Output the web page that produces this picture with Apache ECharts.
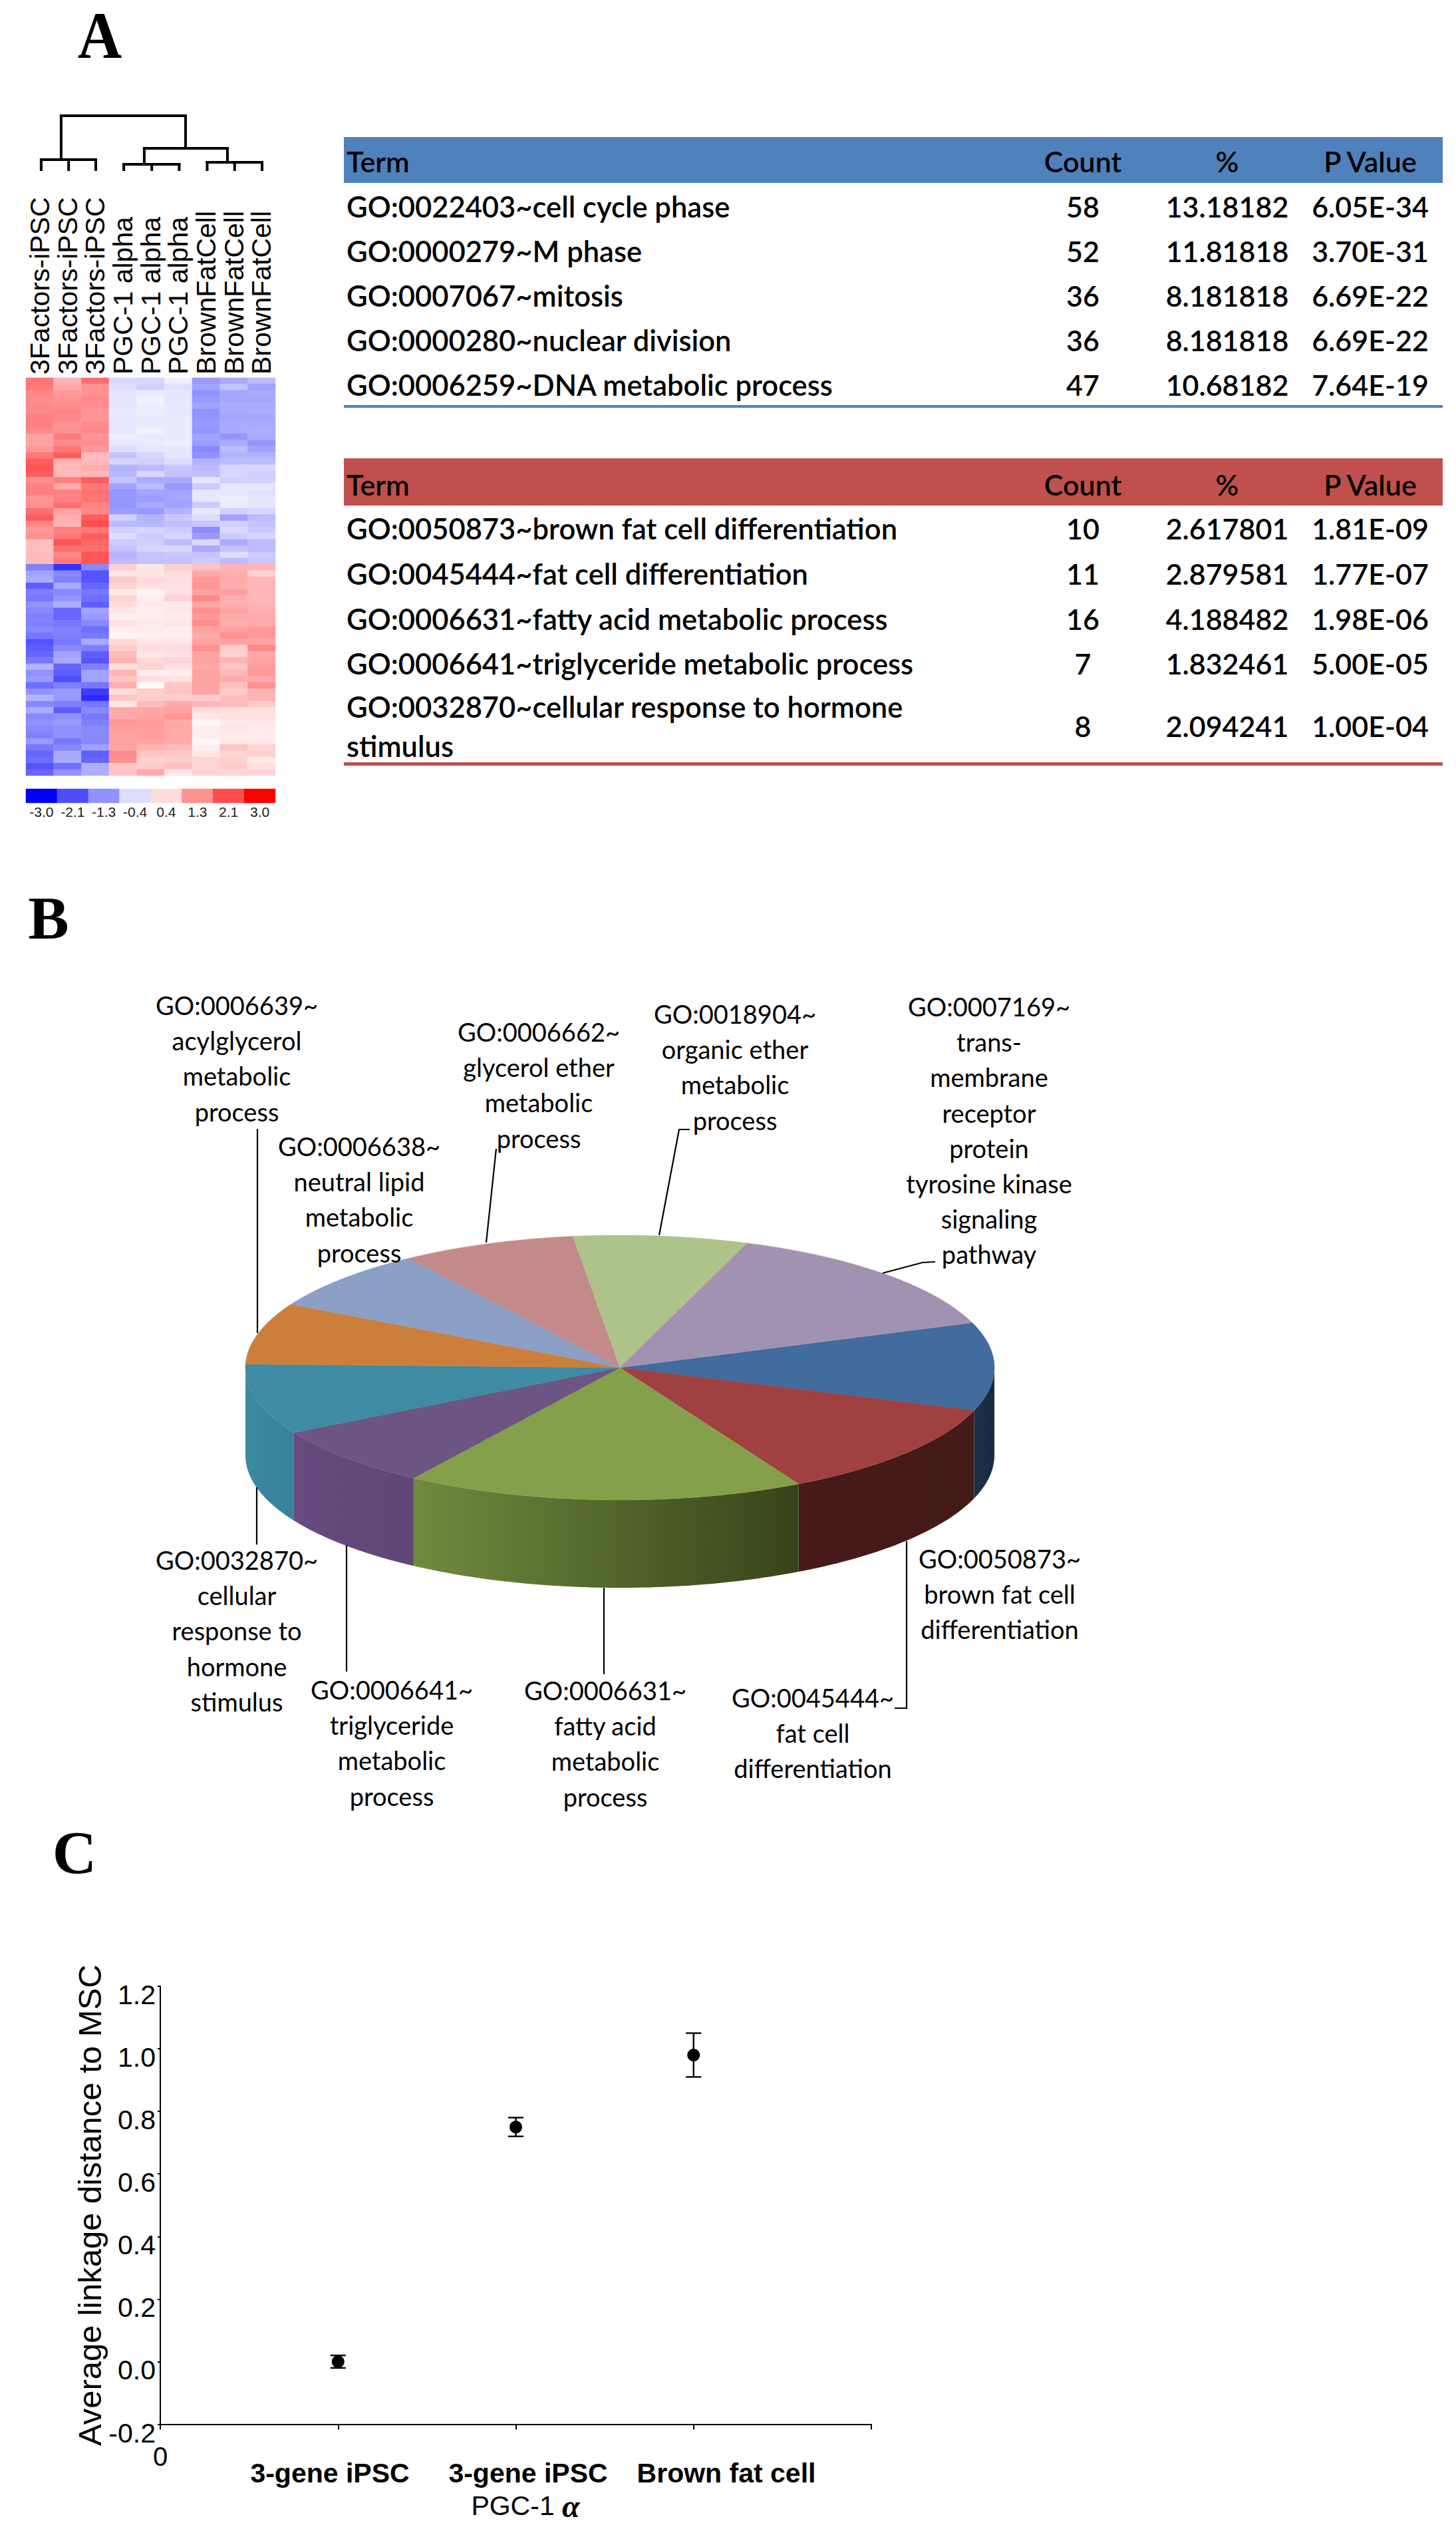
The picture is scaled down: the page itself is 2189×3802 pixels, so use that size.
<!DOCTYPE html>
<html><head><meta charset="utf-8">
<style>html,body{margin:0;padding:0;background:#fff}#c{width:2189px;height:3802px}</style>
<script src="https://cdn.jsdelivr.net/npm/echarts@6/dist/echarts.min.js"></script>
</head><body><div id="c"></div>
<script>
// ---------- Panel A: heat map ----------
const sampleLabels = ['3Factors-iPSC','3Factors-iPSC','3Factors-iPSC','PGC-1 alpha','PGC-1 alpha','PGC-1 alpha','BrownFatCell','BrownFatCell','BrownFatCell'];
const heatRows = [
[1.6,.9,1.7,-.45,-.5,-.2,-1.2,-1.0,-.8],
[1.6,1.0,1.3,-.4,-.55,-.35,-1.1,-.7,-1.1],
[1.4,1.2,1.3,-.3,-.25,-.3,-1.3,-1.05,-1.0],
[1.35,1.3,1.4,-.3,-.15,-.3,-1.2,-1.05,-1.05],
[1.4,1.35,1.35,-.3,-.2,-.27,-1.1,-1.0,-1.0],
[1.4,1.45,1.25,-.25,-.22,-.3,-1.3,-1.0,-.95],
[1.5,1.4,1.25,-.3,-.25,-.25,-1.25,-1.05,-1.05],
[1.5,1.25,1.35,-.28,-.25,-.25,-1.2,-1.0,-1.0],
[1.4,1.3,1.4,-.3,-.15,-.25,-1.25,-1.0,-.95],
[1.1,1.55,1.25,-.2,-.25,-.25,-1.1,-1.25,-1.0],
[1.1,1.35,1.35,-.3,-.25,-.2,-1.15,-1.0,-1.25],
[1.2,1.6,1.2,-.4,-.3,-.3,-1.4,-.8,-1.1],
[1.6,1.9,.8,-.7,-.5,-.3,-1.3,-.9,-.9],
[1.9,.9,.85,-.5,-.55,-.4,-.9,-.8,-.8],
[2.0,.8,.95,-.9,-.8,-.65,-.8,-.5,-.45],
[1.9,.85,.85,-.85,-.5,-.7,-.75,-.5,-.55],
[1.3,1.5,1.9,-.7,-1.0,-1.0,-.3,-.55,-.55],
[1.5,1.0,1.6,-1.1,-.8,-1.2,-.6,-.3,-.3],
[1.5,1.5,1.65,-1.25,-1.1,-1.1,-.3,-.3,-.35],
[1.25,1.5,1.65,-1.25,-1.15,-1.05,-.3,-.2,-.3],
[1.3,1.7,1.45,-1.25,-1.0,-1.1,-.6,-.25,-.3],
[1.7,1.1,1.4,-1.15,-1.2,-.9,-.25,-.55,-.5],
[1.9,.95,1.9,-.55,-.9,-.65,-.4,-1.1,-.8],
[1.4,.9,2.1,-.8,-.85,-.75,-.65,-.55,-.7],
[1.2,1.5,1.6,-.55,-.5,-.6,-1.35,-.45,-.65],
[1.3,1.6,1.9,-.4,-.6,-.5,-1.2,-.6,-.5],
[.75,2.0,1.8,-.6,-.55,-.8,-.45,-1.0,-.8],
[.75,1.7,1.7,-.7,-.5,-.45,-1.0,-.7,-.8],
[.8,1.4,2.0,-.9,-.7,-.65,-.7,-.4,-.6],
[.8,1.6,2.0,-.8,-.7,-.7,-.6,-.8,-.65],
[-1.5,-2.4,-1.4,.55,.3,.55,.7,.9,.9],
[-1.1,-1.4,-2.0,.3,.3,.4,1.0,.95,.5],
[-1.0,-1.5,-2.0,.65,.45,.4,1.2,1.0,.85],
[-1.9,-1.0,-1.8,.5,.35,.35,1.25,.95,.85],
[-1.5,-1.4,-1.6,.25,.15,.35,1.1,1.15,.85],
[-1.6,-1.25,-1.7,.5,.2,.5,1.4,.95,.85],
[-1.3,-.95,-1.9,.4,.25,.25,1.05,.95,.9],
[-1.4,-1.8,-1.1,.3,.2,.3,1.3,1.1,.95],
[-1.5,-1.8,-1.2,.2,.2,.25,1.2,1.0,1.0],
[-1.5,-1.6,-1.4,.35,.25,.3,1.35,.95,1.0],
[-1.4,-1.5,-1.7,.2,.25,.2,1.1,1.1,1.2],
[-1.6,-1.5,-1.6,.1,.2,.2,1.0,1.3,1.2],
[-2.0,-1.6,-1.0,.45,.3,.3,1.1,1.1,1.1],
[-1.9,-1.4,-1.5,.6,.4,.4,1.3,.6,1.4],
[-1.8,-1.1,-1.9,.8,.3,.35,1.1,.55,1.0],
[-1.6,-1.0,-2.0,.9,.45,.5,1.1,.9,1.1],
[-.9,-1.8,-1.5,.4,.5,.35,1.0,.7,1.15],
[-1.3,-1.9,-1.1,.9,.2,.2,1.1,.85,1.2],
[-1.2,-2.1,-1.1,.7,.4,.35,1.1,1.0,1.0],
[-1.7,-1.5,-1.6,.95,.05,.7,1.1,.75,1.3],
[-1.3,-1.2,-2.3,.4,.6,.7,1.1,.6,.9],
[-.9,-1.2,-2.5,.7,.6,.6,.6,.8,.9],
[-1.4,-1.5,-1.6,.3,.8,1.0,.85,.8,.6],
[-1.0,-1.9,-1.4,1.0,1.05,1.1,.4,.35,.35],
[-1.4,-1.3,-1.6,1.0,1.1,1.25,.25,.35,.35],
[-1.3,-1.2,-1.5,1.25,1.15,1.0,.1,.25,.3],
[-1.4,-1.3,-1.4,1.15,1.15,1.05,.2,.3,.25],
[-1.5,-1.3,-1.4,1.1,1.15,1.05,.2,.25,.25],
[-1.2,-1.6,-1.4,1.1,1.1,1.0,.08,.25,.25],
[-1.6,-1.4,-1.1,1.1,.9,.8,.2,.7,.5],
[-1.8,-1.0,-1.9,1.35,.7,.65,.3,.5,.55],
[-1.7,-1.0,-1.8,1.3,.55,.6,.5,.55,.25],
[-2.0,-1.7,-.95,.7,.6,.75,.5,.6,.35],
[-1.8,-1.3,-.95,.7,1.0,.3,.5,.5,.5]
];
const scaleLabels = ['-3.0','-2.1','-1.3','-0.4','0.4','1.3','2.1','3.0'];
const scaleValues = [-3,-2.1,-1.3,-0.4,0.4,1.3,2.1,3];
// dendrogram segments: [x1, height1, x2, height2] in column / height units
const dendroSegments = [
 [0.55,0,0.55,15],[1.54,0,1.54,15],[2.52,0,2.52,15],[0.55,15,2.52,15],
 [3.53,0,3.53,8],[4.54,0,4.54,8],[5.53,0,5.53,8],[3.53,8,5.53,8],
 [6.54,0,6.54,11],[7.53,0,7.53,11],[8.52,0,8.52,11],[6.54,11,8.52,11],
 [4.27,8,4.27,32],[7.27,11,7.27,32],[4.27,32,7.27,32],
 [1.27,15,1.27,81],[5.76,32,5.76,81],[1.27,81,5.76,81]
];
// ---------- Panel A: tables ----------
const tableHeader = ['Term','Count','%','P Value'];
const blueTerms = ['GO:0022403~cell cycle phase','GO:0000279~M phase','GO:0007067~mitosis','GO:0000280~nuclear division','GO:0006259~DNA metabolic process'];
const blueCounts = ['58','52','36','36','47'];
const bluePercents = ['13.18182','11.81818','8.181818','8.181818','10.68182'];
const bluePValues = ['6.05E-34','3.70E-31','6.69E-22','6.69E-22','7.64E-19'];
const redTerms = ['GO:0050873~brown fat cell differentiation','GO:0045444~fat cell differentiation','GO:0006631~fatty acid metabolic process','GO:0006641~triglyceride metabolic process'];
const redLastTerm = ['GO:0032870~cellular response to hormone','stimulus'];
const redCounts = ['10','11','16','7','8'];
const redPercents = ['2.617801','2.879581','4.188482','1.832461','2.094241'];
const redPValues = ['1.81E-09','1.77E-07','1.98E-06','5.00E-05','1.00E-04'];
// ---------- Panel B: pie ----------
const pieCounts = [10,11,16,7,8,7,7,7,7,13];
const pieTopColors = ['#426b9e','#a04040','#84a04a','#6c5484','#3e8ba4','#cb7f3b','#8ba0c4','#c48a8a','#aec38a','#a292b2'];
const pieSideColors = [['#1c3149','#182a40'],['#461b19','#441a18'],['#6f8b3e','#374419'],['#684a80','#5f4675'],['#3a8ba1','#38809a'],['#888','#888'],['#888','#888'],['#888','#888'],['#888','#888'],['#888','#888']];
const pieLabels = [
 {lines:['GO:0006639~','acylglycerol','metabolic','process'],x:356,y:1511},
 {lines:['GO:0006638~','neutral lipid','metabolic','process'],x:540,y:1723},
 {lines:['GO:0006662~','glycerol ether','metabolic','process'],x:810,y:1551},
 {lines:['GO:0018904~','organic ether','metabolic','process'],x:1105,y:1524},
 {lines:['GO:0007169~','trans-','membrane','receptor','protein','tyrosine kinase','signaling','pathway'],x:1487,y:1513},
 {lines:['GO:0032870~','cellular','response to','hormone','stimulus'],x:356,y:2345},
 {lines:['GO:0006641~','triglyceride','metabolic','process'],x:589,y:2540},
 {lines:['GO:0006631~','fatty acid','metabolic','process'],x:910,y:2541},
 {lines:['GO:0045444~','fat cell','differentiation'],x:1222,y:2552},
 {lines:['GO:0050873~','brown fat cell','differentiation'],x:1503,y:2343}
];
const leaderLines = [
 [[387,1697],[387,2004]],
 [[746,1727],[731,1868]],
 [[1037,1698],[1021,1698],[991,1857]],
 [[1406,1897],[1387,1898],[1327,1914]],
 [[386,2236],[386,2322]],
 [[521,2323],[521,2513]],
 [[908,2387],[908,2517]],
 [[1363,2317],[1363,2568],[1345,2568]]
];
// ---------- Panel C ----------
const groupPositions = [1,2,3];
const groupNames = ['3-gene iPSC','3-gene iPSC','Brown fat cell'];
const groupMeans = [0.0,0.75,0.98];
const groupLows = [-0.02,0.72,0.91];
const groupHighs = [0.02,0.78,1.05];
const yTitle = 'Average linkage distance to MSC';

const FONT = 'Lato';
const ARIAL = '"Liberation Sans"';
function txt(text,x,y,o){o=o||{};
 return {type:'text',x:x,y:y,silent:true,scaleX:o.sx||1,scaleY:o.sy||1,originX:0,originY:0,z:o.z||20,
  style:{text:text,fill:o.fill||'#000',fontSize:o.size||40,fontFamily:o.family||FONT,fontWeight:o.weight||'normal',
   fontStyle:o.style||'normal',align:o.align||'left',verticalAlign:'middle',textAlign:o.align||'left',textVerticalAlign:'middle',rich:o.rich}};
}
const graphics = [];
graphics.push(txt('A',150,54,{family:'"Liberation Serif"',size:92,sy:1.08,weight:'bold',align:'center'}));
graphics.push(txt('B',73,1380,{family:'"Liberation Serif"',size:92,weight:'bold',align:'center'}));
graphics.push(txt('C',112,2785,{family:'"Liberation Serif"',size:92,weight:'bold',align:'center'}));

// tables
const TX = {term:521, count:1628, pct:1845, p:2060, left:517, width:1652};
const TS = {term:43.5, num:43, weight:'600'};
function cell(t,x,y,align,size){return txt(t,x,y-2,{size:size,weight:TS.weight,align:align});}
function table(headTop,headH,color,lineY,lineH,headY){
 graphics.push({type:'rect',shape:{x:TX.left,y:headTop,width:TX.width,height:headH},style:{fill:color},silent:true,z:5});
 graphics.push({type:'rect',shape:{x:TX.left,y:lineY,width:TX.width,height:lineH},style:{fill:color},silent:true,z:5});
 graphics.push(cell(tableHeader[0],TX.term,headY,'left',TS.num));
 graphics.push(cell(tableHeader[1],TX.count,headY,'center',TS.num));
 graphics.push(cell(tableHeader[2],TX.pct,headY,'center',TS.num));
 graphics.push(cell(tableHeader[3],TX.p,headY,'center',TS.num));
}
table(206,69,'#4f81bd',609,4,244);
table(689,71,'#c0504d',1146,5,730);
const blueY=[312,379,446,513,580];
blueTerms.forEach((t,i)=>{
 graphics.push(cell(t,TX.term,blueY[i],'left',TS.term),cell(blueCounts[i],TX.count,blueY[i],'center',TS.num),cell(bluePercents[i],TX.pct,blueY[i],'center',TS.num),cell(bluePValues[i],TX.p,blueY[i],'center',TS.num));
});
const redY=[796,864,932,999,1093];
redCounts.forEach((c,i)=>{
 if(i<4) graphics.push(cell(redTerms[i],TX.term,redY[i],'left',TS.term));
 graphics.push(cell(c,TX.count,redY[i],'center',TS.num),cell(redPercents[i],TX.pct,redY[i],'center',TS.num),cell(redPValues[i],TX.p,redY[i],'center',TS.num));
});
graphics.push(cell(redLastTerm[0],TX.term,1064,'left',TS.term),cell(redLastTerm[1],TX.term,1123,'left',TS.term));

// pie labels + leaders
pieLabels.forEach(l=>l.lines.forEach((s,i)=>graphics.push(txt(s,l.x,l.y+i*53.2,{size:38,align:'center'}))));
leaderLines.forEach(p=>graphics.push({type:'polyline',silent:true,z:15,shape:{points:p},style:{stroke:'#000',lineWidth:2.2,fill:null}}));

// panel C free labels
const cLabelX=[496,794,1092];
groupNames.forEach((n,i)=>graphics.push(txt(n,cLabelX[i],3718,{family:ARIAL,size:41,weight:'bold',align:'center'})));
graphics.push(txt('PGC-1 {a|α}',790,3767,{family:ARIAL,size:41,align:'center',rich:{a:{fontFamily:'"Liberation Serif"',fontStyle:'italic',fontWeight:'bold',fontSize:48,fill:'#000'}}}));

// pie geometry
const P={cx:932,cy:2056,rx:563,ry:199,depth:132,start:19.8};
const total=pieCounts.reduce((a,b)=>a+b,0);
function sliceAngles(idx){
 let a=P.start;for(let i=0;i<idx;i++)a-=pieCounts[i]/total*360;
 return [a,a-pieCounts[idx]/total*360];
}
function rim(deg,dy){const t=deg*Math.PI/180;return [P.cx+P.rx*Math.cos(t),P.cy-P.ry*Math.sin(t)+(dy||0)];}
function arc(a0,a1,dy){const n=Math.max(2,Math.ceil(Math.abs(a0-a1)));const o=[];for(let i=0;i<=n;i++)o.push(rim(a0+(a1-a0)*i/n,dy));return o;}

const chart=echarts.init(document.getElementById('c'),null,{renderer:'svg',width:2189,height:3802});
const heatData=[];heatRows.forEach((r,y)=>r.forEach((v,x)=>heatData.push([x,y,v])));
chart.setOption({
 animation:false,backgroundColor:'#fff',
 textStyle:{fontFamily:ARIAL,color:'#000'},
 graphic:{elements:graphics},
 visualMap:{type:'continuous',show:false,min:-3,max:3,seriesIndex:[0,1],dimension:2,inRange:{color:['#0000ff','#ffffff','#ff0000']}},
 grid:[
  {left:39,top:568,width:375,height:598},
  {left:39,top:1186,width:375,height:21},
  {left:39,top:174,width:375,height:81},
  {left:241,top:2986,width:1069,height:658.5}
 ],
 xAxis:[
  {gridIndex:0,type:'category',position:'top',data:sampleLabels,axisLine:{show:false},axisTick:{show:false},splitLine:{show:false},
   axisLabel:{interval:0,rotate:-90,margin:5,fontSize:41,color:'#000',fontFamily:ARIAL}},
  {gridIndex:1,type:'category',data:scaleLabels,axisLine:{show:false},axisTick:{show:false},
   axisLabel:{interval:0,margin:3,fontSize:21,color:'#222',fontFamily:ARIAL}},
  {gridIndex:2,type:'value',min:0,max:9,show:false},
  {gridIndex:3,type:'value',min:0,max:4,interval:1,splitLine:{show:false},
   axisLine:{onZero:false,lineStyle:{color:'#000',width:2}},axisTick:{length:8,lineStyle:{color:'#000',width:2}},
   axisLabel:{margin:28,fontSize:40,color:'#000',fontFamily:ARIAL,formatter:v=>v===0?'0':''}}
 ],
 yAxis:[
  {gridIndex:0,type:'category',inverse:true,show:false,data:heatRows.map((r,i)=>i)},
  {gridIndex:1,type:'category',show:false,data:['scale']},
  {gridIndex:2,type:'value',min:0,max:81,show:false},
  {gridIndex:3,type:'value',min:-0.2,max:1.2,interval:0.2,splitLine:{show:false},
   axisLine:{show:true,onZero:false,lineStyle:{color:'#000',width:2}},axisTick:{show:true,length:4,lineStyle:{color:'#000',width:2}},
   axisLabel:{margin:7,fontSize:41,color:'#000',fontFamily:ARIAL,verticalAlign:'top',lineHeight:26,formatter:v=>v.toFixed(1)},
   name:yTitle,nameLocation:'middle',nameRotate:90,nameGap:80,nameTextStyle:{fontSize:49,color:'#000',fontFamily:ARIAL}}
 ],
 series:[
  {type:'heatmap',xAxisIndex:0,yAxisIndex:0,data:heatData,itemStyle:{borderWidth:0},emphasis:{disabled:true},progressive:0},
  {type:'heatmap',xAxisIndex:1,yAxisIndex:1,data:scaleValues.map((v,i)=>[i,0,v]),itemStyle:{borderWidth:0},emphasis:{disabled:true}},
  {type:'custom',xAxisIndex:2,yAxisIndex:2,data:dendroSegments,silent:true,
   renderItem:(p,api)=>{const a=api.coord([api.value(0),api.value(1)]),b=api.coord([api.value(2),api.value(3)]);
    return {type:'line',shape:{x1:a[0],y1:a[1],x2:b[0],y2:b[1]},style:{stroke:'#000',lineWidth:4,lineCap:'square'}};},
   encode:{x:[0,2],y:[1,3]}},
  // pie sides, then top faces
  {type:'custom',coordinateSystem:'none',silent:true,data:pieCounts,z:2,
   renderItem:(p,api)=>{
    const i=p.dataIndex;let [a0,a1]=sliceAngles(i);
    // visible side is the lower half of the rim (180..360 deg)
    const norm=[];
    [[a0,a1],[a0+360,a1+360]].forEach(([s,e])=>{const hi=Math.min(s,360),lo=Math.max(e,180);if(hi>lo)norm.push([hi,lo]);});
    if(!norm.length)return null;
    return {type:'group',children:norm.map(([hi,lo])=>{
     const top=arc(hi,lo,0),bot=arc(lo,hi,P.depth);
     const c=pieSideColors[i];
     const left=rim(lo,0)[0]<rim(hi,0)[0];
     return {type:'polygon',shape:{points:top.concat(bot)},style:{
      fill:new echarts.graphic.LinearGradient(0,0,1,0,[{offset:0,color:left?c[0]:c[1]},{offset:1,color:left?c[1]:c[0]}])}};
    })};
   }},
  {type:'custom',coordinateSystem:'none',silent:true,data:pieCounts,z:3,
   renderItem:(p,api)=>{
    const i=p.dataIndex;const [a0,a1]=sliceAngles(i);
    return {type:'polygon',shape:{points:[[P.cx,P.cy]].concat(arc(a0,a1,0))},style:{fill:pieTopColors[i],stroke:pieTopColors[i],lineWidth:0.5}};
   }},
  // panel C error bars, then means
  {type:'custom',xAxisIndex:3,yAxisIndex:3,silent:true,z:4,encode:{x:0,y:[1,2]},
   data:groupPositions.map((x,i)=>[x,groupLows[i],groupHighs[i]]),
   renderItem:(p,api)=>{const lo=api.coord([api.value(0),api.value(1)]),hi=api.coord([api.value(0),api.value(2)]);
    const w=11.5,s={stroke:'#000',lineWidth:2.4};
    return {type:'group',children:[
     {type:'line',shape:{x1:lo[0],y1:lo[1],x2:hi[0],y2:hi[1]},style:s},
     {type:'line',shape:{x1:lo[0]-w,y1:lo[1],x2:lo[0]+w,y2:lo[1]},style:s},
     {type:'line',shape:{x1:hi[0]-w,y1:hi[1],x2:hi[0]+w,y2:hi[1]},style:s}]};}},
  {type:'scatter',xAxisIndex:3,yAxisIndex:3,z:5,symbol:'circle',symbolSize:19,itemStyle:{color:'#000',opacity:1},silent:true,
   data:groupPositions.map((x,i)=>[x,groupMeans[i]])}
 ]
});
</script></body></html>
